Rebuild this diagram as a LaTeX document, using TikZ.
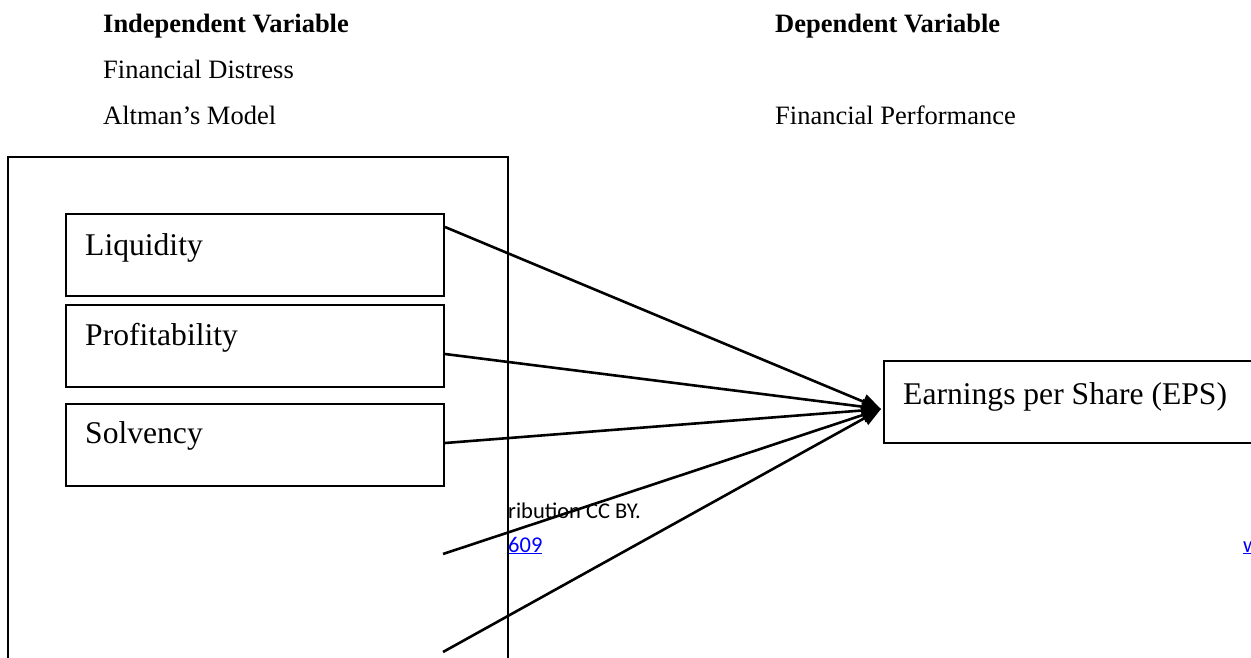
\documentclass[tikz,border=0pt]{standalone}
\usepackage{fontspec}
\setmainfont{Liberation Serif}
\newfontfamily\wmfont{Carlito}
\usetikzlibrary{arrows.meta}
\definecolor{linkblue}{RGB}{0,0,255}
\begin{document}
\begin{tikzpicture}[x=1pt,y=-1pt,
  hdr/.style={anchor=base west, font=\fontsize{26.5}{30}\selectfont, inner sep=0pt},
  hdrb/.style={hdr, font=\fontsize{26.5}{30}\selectfont\bfseries},
  box/.style={draw, line width=2pt, anchor=north west, minimum width=378pt, minimum height=82pt, inner sep=0pt},
  lbl/.style={anchor=base west, font=\fontsize{31.6}{36}\selectfont, inner sep=0pt},
  conn/.style={line width=2.6pt, -{Triangle[length=19pt,width=15pt]}},
  wm/.style={anchor=base west, font=\wmfont\fontsize{22.5}{26}\selectfont, inner sep=0pt}]
\begin{scope}
\clip (0,0) rectangle (1251,658);
% header texts
\node[hdrb] (h1) at (103,33) {Independent Variable};
\node[hdr]  (h2) at (103,79) {Financial Distress};
\node[hdr]  (h3) at (103,125) {Altman’s Model};
\node[hdrb] (h4) at (775,33) {Dependent Variable};
\node[hdr]  (h5) at (775,125) {Financial Performance};
% stray texts
\node[wm] (w1) at (508,518) {ribution CC BY.};
\node[wm, text=linkblue] (w2) at (508,552) {\underline{609}};
\node[wm, text=linkblue] (w3) at (1243,552) {\underline{w}};
% outer box
\node[draw, line width=2.2pt, fill=white, anchor=north west, minimum width=500pt, minimum height=560pt, inner sep=0pt] (outer) at (7,156) {};
% inner boxes
\node[box] (liq) at (65,213) {};
\node[lbl] (tliq) at (85,255) {Liquidity};
\node[box] (prof) at (65,304) {};
\node[lbl] (tprof) at (85,345) {Profitability};
\node[box] (solv) at (65,403) {};
\node[lbl] (tsolv) at (85,443) {Solvency};
% EPS box
\node[draw, line width=2pt, anchor=north west, minimum width=420pt, minimum height=82pt, inner sep=0pt] (eps) at (883,360) {};
\node[lbl] (teps) at (903,404) {Earnings per Share (EPS)};
% connectors
\coordinate (tip) at ([xshift=-2pt,yshift=-7pt]eps.west);
\coordinate (s1) at ([yshift=-14pt]liq.north east);
\coordinate (s2) at ([yshift=-8pt]prof.east);
\coordinate (s3) at ([yshift=2pt]solv.east);
\coordinate (s4) at (443,554);
\coordinate (s5) at (443,652);
\draw[conn] (s1) -- (tip);
\draw[conn] (s2) -- (tip);
\draw[conn] (s3) -- (tip);
\draw[conn] (s4) -- (tip);
\draw[conn] (s5) -- (tip);
\end{scope}
\pgfresetboundingbox
\path[use as bounding box] (0,0) rectangle (1251,658);
\end{tikzpicture}
\end{document}
